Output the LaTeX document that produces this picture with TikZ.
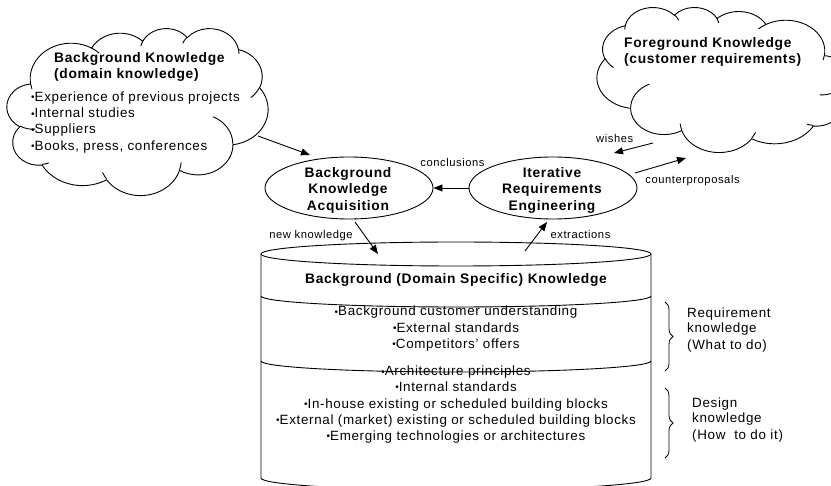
\documentclass[tikz,border=0pt]{standalone}
\usepackage{fontspec}
\setmainfont{Liberation Sans}
\newfontfamily\txtfont{Liberation Sans}[LetterSpace=5]
\usetikzlibrary{arrows.meta,shapes.geometric,decorations.pathreplacing}
\newcommand\bodyf{\txtfont\fontsize{13.4}{16}\selectfont}
\newcommand\boldf{\txtfont\bfseries\fontsize{13.8}{16.5}\selectfont}
\newcommand\labf{\txtfont\fontsize{11.2}{13}\selectfont}
\newcommand\bul{\raisebox{0.8pt}{\fontsize{10}{10}\selectfont •}}
% convert DrawingML visual angles into parametric angles
\newcommand\cldset[5]{%
  \pgfmathsetmacro\tmpS{atan2((#2)*sin(#4),(#3)*cos(#4))}%
  \pgfmathsetmacro\tmpE{atan2((#2)*sin((#4)+(#5)),(#3)*cos((#4)+(#5)))}%
  \pgfmathsetmacro\tmpE{\tmpS+mod(\tmpE-\tmpS+720,360)}%
  \expandafter\xdef\csname cldS#1\endcsname{\tmpS}%
  \expandafter\xdef\csname cldE#1\endcsname{\tmpE}%
}
\newcommand\cloudshape{%
  \draw[cloudline, fill=white] (3.9,14.37)
    arc[start angle=\cldSa,end angle=\cldEa,x radius=6.753,y radius=9.190]
    arc[start angle=\cldSb,end angle=\cldEb,x radius=5.333,y radius=7.267]
    arc[start angle=\cldSc,end angle=\cldEc,x radius=4.365,y radius=5.945]
    arc[start angle=\cldSd,end angle=\cldEd,x radius=4.857,y radius=6.595]
    arc[start angle=\cldSe,end angle=\cldEe,x radius=5.333,y radius=7.273]
    arc[start angle=\cldSf,end angle=\cldEf,x radius=6.775,y radius=9.220]
    arc[start angle=\cldSg,end angle=\cldEg,x radius=5.785,y radius=7.867]
    arc[start angle=\cldSh,end angle=\cldEh,x radius=6.752,y radius=9.215]
    arc[start angle=\cldSi,end angle=\cldEi,x radius=7.720,y radius=10.543]
    arc[start angle=\cldSj,end angle=\cldEj,x radius=4.360,y radius=5.918]
    arc[start angle=\cldSk,end angle=\cldEk,x radius=4.345,y radius=5.945]
    -- cycle;
  \draw[cloudline]
    (4.693,26.177) arc[start angle=\cldSA,end angle=\cldEA,x radius=4.345,y radius=5.945]
    (6.928,34.899) arc[start angle=\cldSB,end angle=\cldEB,x radius=4.360,y radius=5.918]
    (16.478,39.090) arc[start angle=\cldSC,end angle=\cldEC,x radius=6.752,y radius=9.215]
    (28.827,34.751) arc[start angle=\cldSD,end angle=\cldED,x radius=6.752,y radius=9.215]
    (34.129,22.954) arc[start angle=\cldSE,end angle=\cldEE,x radius=5.785,y radius=7.867]
    (41.798,15.354) arc[start angle=\cldSF,end angle=\cldEF,x radius=5.333,y radius=7.273]
    (38.324,5.426) arc[start angle=\cldSG,end angle=\cldEG,x radius=4.857,y radius=6.595]
    (29.078,3.952) arc[start angle=\cldSH,end angle=\cldEH,x radius=4.857,y radius=6.595]
    (22.141,4.720) arc[start angle=\cldSI,end angle=\cldEI,x radius=4.365,y radius=5.945]
    (14.000,5.192) arc[start angle=\cldSJ,end angle=\cldEJ,x radius=6.753,y radius=9.190]
    (4.127,15.789) arc[start angle=\cldSK,end angle=\cldEK,x radius=6.753,y radius=9.190];
}
\begin{document}
\begin{tikzpicture}[x=1pt,y=-1pt,
  ln/.style={line width=0.9pt},
  arr/.style={ln,-{Triangle[length=9pt,width=7pt]}},
  cloudline/.style={line width=0.9pt,line join=round},
  bt/.style={inner sep=0pt,font=\boldf,anchor=base},
  tx/.style={inner sep=0pt,font=\bodyf,anchor=base},
  lb/.style={inner sep=0pt,font=\labf,anchor=base},
  oval/.style={ellipse,draw,line width=0.9pt,minimum width=168pt,minimum height=62pt,inner sep=0pt},
  bracestyle/.style={line width=0.8pt,decorate,decoration={brace,amplitude=8pt}}]
\useasboundingbox (0,0) rectangle (831,486);
\clip (0,0) rectangle (831,486);
\cldset{a}{6.753}{9.190}{-190.4875}{123.7805}
\cldset{b}{5.333}{7.267}{-144.1024}{89.9452}
\cldset{c}{4.365}{5.945}{-145.8079}{99.7230}
\cldset{d}{4.857}{6.595}{-130.9861}{117.2417}
\cldset{e}{5.333}{7.273}{-78.7089}{109.0269}
\cldset{f}{6.775}{9.220}{-46.2673}{130.2690}
\cldset{g}{5.785}{7.867}{0.6250}{114.0333}
\cldset{h}{6.752}{9.215}{22.4516}{115.1726}
\cldset{i}{7.720}{10.543}{66.2426}{75.7110}
\cldset{j}{4.360}{5.918}{-274.9421}{146.7356}
\cldset{k}{4.345}{5.945}{-246.8285}{152.5189}
\cldset{A}{4.345}{5.945}{86.7420}{26.4295}
\cldset{B}{4.360}{5.918}{73.6105}{11.4475}
\cldset{C}{6.752}{9.215}{137.6242}{14.0811}
\cldset{D}{6.752}{9.215}{6.4533}{15.9984}
\cldset{E}{5.785}{7.867}{-70.2924}{70.9174}
\cldset{F}{5.333}{7.273}{30.3180}{27.7515}
\cldset{G}{4.857}{6.595}{-13.7443}{14.8589}
\cldset{H}{4.857}{6.595}{-149.1815}{18.1954}
\cldset{I}{4.365}{5.945}{-163.4943}{17.6864}
\cldset{J}{6.753}{9.190}{-66.7070}{12.3194}
\cldset{K}{6.753}{9.190}{157.6544}{11.8582}

% clouds
\begin{scope}[shift={(7pt,-28pt)},x={(6.0417pt,0pt)},y={(0pt,-3.8657pt)}]
  \cloudshape
\end{scope}
\begin{scope}[shift={(847pt,-7pt)},x={(-5.787pt,0pt)},y={(0pt,-3.3565pt)}]
  \cloudshape
\end{scope}

% left cloud text
\node[bt,anchor=base west] (lc1) at (54,62.7) {Background Knowledge};
\node[bt,anchor=base west] (lc2) at (54,78.3) {(domain knowledge)};
\node[tx,anchor=base west] (lc3) at (31,101.7) {\bul Experience of previous projects};
\node[tx,anchor=base west] (lc4) at (31,118) {\bul Internal studies};
\node[tx,anchor=base west] (lc5) at (31,134) {\bul Suppliers};
\node[tx,anchor=base west] (lc6) at (31,150.2) {\bul Books, press, conferences};

% right cloud text
\node[bt,anchor=base west] (rc1) at (624,47.3) {Foreground Knowledge};
\node[bt,anchor=base west] (rc2) at (624,63.5) {(customer requirements)};

% ellipses
\node[oval] (bka) at (349,188) {};
\node[oval] (ire) at (553,188) {};
\node[bt] (bka1) at (348,177.3) {Background};
\node[bt] (bka2) at (348,194) {Knowledge};
\node[bt] (bka3) at (348,210.5) {Acquisition};
\node[bt] (ire1) at (552,177.3) {Iterative};
\node[bt] (ire2) at (552,194) {Requirements};
\node[bt] (ire3) at (552,210.5) {Engineering};

% cylinder
\draw[ln] (456,254) ellipse[x radius=195,y radius=12];
\draw[ln] (261,254) -- (261,478) arc[start angle=180,end angle=0,x radius=195,y radius=12] -- (651,254);
\node[bt] (cyt) at (456,284) {Background (Domain Specific) Knowledge};
\node[tx] (cy1) at (456,316) {\bul Background customer understanding};
\node[tx] (cy2) at (456,332.3) {\bul External standards};
\node[tx] (cy3) at (456,348.3) {\bul Competitors’ offers};
\node[tx] (cy4) at (456,376) {\bul Architecture principles};
\node[tx] (cy5) at (456,391.7) {\bul Internal standards};
\node[tx] (cy6) at (456,408.3) {\bul In-house existing or scheduled building blocks};
\node[tx] (cy7) at (456,424.3) {\bul External (market) existing or scheduled building blocks};
\node[tx] (cy8) at (456,440.7) {\bul Emerging technologies or architectures};
\draw[ln] (261,296) arc[start angle=180,end angle=0,x radius=195,y radius=11];
\draw[ln] (261,361) arc[start angle=180,end angle=0,x radius=195,y radius=11];

% braces and their texts
\coordinate (b1t) at (665,302);
\coordinate (b1b) at (665,371);
\coordinate (b2t) at (665,388);
\coordinate (b2b) at (665,458);
\draw[bracestyle] (b1t) -- (b1b);
\draw[bracestyle] (b2t) -- (b2b);
\node[tx,anchor=base west] (rk1) at (687,317.3) {Requirement};
\node[tx,anchor=base west] (rk2) at (687,332.7) {knowledge};
\node[tx,anchor=base west] (rk3) at (687,349.3) {(What to do)};
\node[tx,anchor=base west] (dk1) at (692,407.3) {Design};
\node[tx,anchor=base west] (dk2) at (692,422.7) {knowledge};
\node[tx,anchor=base west] (dk3) at (692,439.3) {(How~ to do it)};

% arrows
\coordinate (c1s) at (258,136);
\coordinate (c1e) at (310,155);
\coordinate (wss) at (653,143);
\coordinate (wse) at (614,153);
\coordinate (cps) at (635,173);
\coordinate (cpe) at (686,158);
\coordinate (nks) at (355,222);
\coordinate (nke) at (378,254);
\coordinate (exs) at (525,251);
\coordinate (exe) at (547,222);
\draw[arr] (c1s) -- (c1e);
\draw[arr] (ire.west) -- (bka.east);
\draw[arr] (wss) -- (wse);
\draw[arr] (cps) -- (cpe);
\draw[arr] (nks) -- (nke);
\draw[arr] (exs) -- (exe);
\node[lb] (lconc) at (452.5,167) {conclusions};
\node[lb] (lwish) at (614.7,143) {wishes};
\node[lb] (lcp) at (692.5,184) {counterproposals};
\node[lb] (lext) at (580.5,239) {extractions};
\node[lb] (lnk) at (311,239) {new knowledge};
\end{tikzpicture}
\end{document}
